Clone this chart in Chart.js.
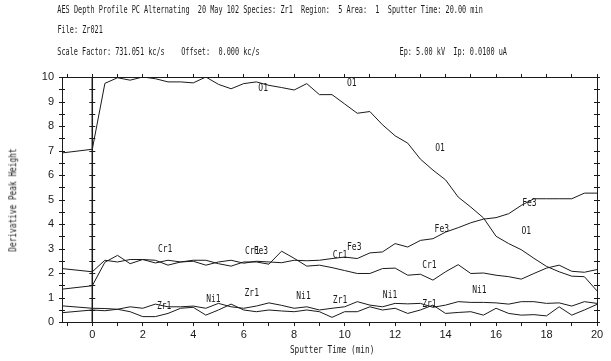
<!DOCTYPE html>
<html>
<head>
<meta charset="utf-8">
<script src="https://cdn.jsdelivr.net/npm/chart.js@4.4.0/dist/chart.umd.min.js"></script>
<style>
  html, body { margin: 0; padding: 0; background: #fff; }
  #wrap { position: relative; width: 611px; height: 361px; overflow: hidden; }
  canvas { position: absolute; left: 0; top: 0; }
  .txt { position: absolute; left: 0; top: 0; font-family: "DejaVu Sans Mono", monospace; font-size: 10px; line-height: 12px; white-space: pre; color: #1a1a1a; transform-origin: 50% 50%; }
</style>
</head>
<body>
<div id="wrap">
  <canvas id="chart" width="611" height="361"></canvas>
  <div class="txt" id="head1">AES Depth Profile PC Alternating  20 May 102 Species: Zr1  Region:  5 Area:  1  Sputter Time: 20.00 min</div>
  <div class="txt" id="head2">File: Zr021</div>
  <div class="txt" id="head3">Scale Factor: 731.051 kc/s    Offset:  0.000 kc/s</div>
  <div class="txt" id="head4">Ep: 5.00 kV  Ip: 0.0100 uA</div>
  <div class="txt" id="xTitle">Sputter Time (min)</div>
  <div class="txt" id="yTitle">Derivative Peak Height</div>
</div>
<script>
// sputter time (min) of each sample; the first one is the pre-sputter reading
const times = [-1.2, 0, 0.5, 1, 1.5, 2, 2.5, 3, 3.5, 4, 4.5, 5, 5.5, 6, 6.5, 7, 7.5, 8, 8.5, 9, 9.5,
               10, 10.5, 11, 11.5, 12, 12.5, 13, 13.5, 14, 14.5, 15, 15.5, 16, 16.5, 17, 17.5, 18, 18.5, 19, 19.5, 20];

const o1  = [6.9, 7.05, 9.74, 9.97, 9.87, 10.0, 9.93, 9.8, 9.8, 9.76, 10.0, 9.7, 9.52, 9.73, 9.8, 9.66, 9.57, 9.47, 9.73, 9.28, 9.28,
             8.9, 8.52, 8.59, 8.05, 7.6, 7.3, 6.65, 6.2, 5.8, 5.1, 4.69, 4.25, 3.5, 3.2, 2.95, 2.6, 2.27, 2.05, 1.87, 1.85, 1.27];
const fe3 = [1.34, 1.48, 2.44, 2.72, 2.38, 2.55, 2.41, 2.52, 2.45, 2.48, 2.32, 2.45, 2.52, 2.4, 2.48, 2.45, 2.42, 2.52, 2.5, 2.52, 2.59,
             2.65, 2.59, 2.82, 2.86, 3.2, 3.06, 3.33, 3.4, 3.67, 3.85, 4.05, 4.2, 4.26, 4.42, 4.76, 5.03, 5.03, 5.03, 5.03, 5.26, 5.26];
const cr1 = [2.18, 2.05, 2.52, 2.45, 2.55, 2.55, 2.52, 2.32, 2.45, 2.52, 2.52, 2.38, 2.28, 2.45, 2.45, 2.36, 2.89, 2.6, 2.28, 2.32, 2.22,
             2.1, 1.98, 1.98, 2.18, 2.2, 1.91, 1.95, 1.71, 2.05, 2.34, 1.98, 2.0, 1.91, 1.85, 1.75, 1.98, 2.2, 2.32, 2.07, 2.03, 2.14];
const ni1 = [0.66, 0.56, 0.55, 0.52, 0.62, 0.56, 0.73, 0.62, 0.62, 0.65, 0.56, 0.76, 0.62, 0.56, 0.65, 0.78, 0.68, 0.56, 0.62, 0.49, 0.56,
             0.62, 0.83, 0.69, 0.62, 0.76, 0.74, 0.76, 0.6, 0.69, 0.83, 0.8, 0.8, 0.78, 0.73, 0.83, 0.83, 0.76, 0.78, 0.65, 0.83, 0.76];
const zr1 = [0.38, 0.49, 0.46, 0.52, 0.42, 0.22, 0.22, 0.35, 0.56, 0.6, 0.28, 0.49, 0.73, 0.49, 0.42, 0.49, 0.45, 0.42, 0.49, 0.42, 0.19,
             0.42, 0.42, 0.62, 0.49, 0.56, 0.35, 0.49, 0.69, 0.35, 0.39, 0.42, 0.28, 0.56, 0.35, 0.28, 0.3, 0.25, 0.62, 0.28, 0.49, 0.72];

const seriesNames = ["O1", "Fe3", "Cr1", "Ni1", "Zr1"];
const seriesValues = [o1, fe3, cr1, ni1, zr1];

// curve labels written on the plot (text, time, height)
const tagText = ["O1", "O1", "O1", "O1", "Fe3", "Fe3", "Cr1", "Ni1", "Zr1", "Cr1", "Zr1", "Ni1",
                 "Cr1", "Fe3", "Fe3", "Cr1", "Zr1", "Ni1", "Zr1", "Ni1"];
const tagTime = [6.77, 10.28, 13.78, 17.2, 17.32, 13.85, 13.36, 15.34, 13.36, 2.89, 2.85, 4.8,
                 6.34, 6.68, 10.38, 9.82, 6.32, 8.37, 9.82, 11.8];
const tagHeight = [9.55, 9.74, 7.09, 3.69, 4.84, 3.76, 2.33, 1.28, 0.73, 2.97, 0.62, 0.94,
                   2.9, 2.9, 3.03, 2.73, 1.17, 1.03, 0.9, 1.1];

const ink = "#1a1a1a";

// place a header / axis title: anchor point, horizontal squeeze, rotation
function placeText(id, x, y, anchor, sx, rot) {
    const el = document.getElementById(id);
    const w = el.offsetWidth, h = el.offsetHeight;
    let cx = x;
    if (anchor === "left") cx = x + w * sx / 2;
    if (anchor === "right") cx = x - w * sx / 2;
    el.style.left = (cx - w / 2) + "px";
    el.style.top = (y - h / 2) + "px";
    el.style.transform = `rotate(${rot || 0}deg) scaleX(${sx})`;
}
placeText("head1", 57, 10, "left", 0.686);
placeText("head2", 57, 30, "left", 0.686);
placeText("head3", 57, 52, "left", 0.686);
placeText("head4", 400, 52, "left", 0.686);
placeText("xTitle", 332, 350, "center", 0.78);
placeText("yTitle", 13, 200, "center", 0.78, -90);

// tick marks crossing the left axis, the zero-time line and the right axis
const axisMarks = {
    id: "axisMarks",
    afterDraw(chart) {
        const { ctx, chartArea, scales } = chart;
        const x0 = scales.x.getPixelForValue(0);
        ctx.save();
        ctx.strokeStyle = ink;
        ctx.lineWidth = 1.5;
        ctx.beginPath();
        ctx.moveTo(x0, chartArea.top);
        ctx.lineTo(x0, chartArea.bottom);
        ctx.stroke();
        ctx.lineWidth = 1;
        ctx.beginPath();
        scales.y.ticks.forEach(t => {
            const py = Math.round(scales.y.getPixelForValue(t.value)) + 0.5;
            [chartArea.left, x0, chartArea.right].forEach(px => {
                ctx.moveTo(px - 3, py);
                ctx.lineTo(px + 3, py);
            });
        });
        ctx.stroke();
        ctx.restore();
    }
};

// species names written next to the curves
const curveTags = {
    id: "curveTags",
    afterDatasetsDraw(chart) {
        const { ctx, scales } = chart;
        ctx.save();
        ctx.fillStyle = ink;
        ctx.font = "10px 'DejaVu Sans Mono'";
        ctx.textAlign = "center";
        ctx.textBaseline = "middle";
        tagText.forEach((txt, i) => {
            const px = scales.x.getPixelForValue(tagTime[i]);
            const py = scales.y.getPixelForValue(tagHeight[i]);
            ctx.save();
            ctx.translate(px, py);
            ctx.scale(0.8, 1);
            ctx.fillText(txt, 0, 0);
            ctx.restore();
        });
        ctx.restore();
    }
};

const tickFont = { family: "'Liberation Sans', Arial, sans-serif", size: 11 };

new Chart(document.getElementById("chart"), {
    type: "line",
    data: {
        datasets: seriesNames.map((name, k) => ({
            label: name,
            data: times.map((t, i) => ({ x: t, y: seriesValues[k][i] })),
            borderColor: ink,
            borderWidth: 1,
            pointRadius: 0,
            tension: 0,
            fill: false
        }))
    },
    options: {
        responsive: false,
        animation: false,
        layout: { padding: 0 },
        plugins: { legend: { display: false }, tooltip: { enabled: false } },
        scales: {
            x: {
                type: "linear", position: "bottom", min: -1.2, max: 20,
                afterFit: s => { s.height = 39; },
                border: { color: ink, width: 1 },
                grid: { drawOnChartArea: false, tickLength: 4, color: ink },
                ticks: {
                    stepSize: 1, includeBounds: false, autoSkip: false, maxRotation: 0, padding: 2,
                    color: ink, font: tickFont,
                    callback: v => (v % 2 === 0 ? String(v) : "")
                }
            },
            xTop: {
                type: "linear", position: "top", min: -1.2, max: 20,
                afterFit: s => { s.height = 77; },
                border: { color: ink, width: 1 },
                grid: { drawOnChartArea: false, tickLength: 3, color: ink },
                ticks: { stepSize: 1, includeBounds: false, autoSkip: false, maxRotation: 0, callback: () => "" }
            },
            y: {
                min: 0, max: 10, position: "left",
                afterFit: s => { s.width = 62; },
                border: { color: ink, width: 1 },
                grid: { drawOnChartArea: false, drawTicks: false },
                ticks: {
                    stepSize: 0.5, autoSkip: false, padding: 8, color: ink, font: tickFont,
                    callback: v => (Number.isInteger(v) ? String(v) : "")
                }
            },
            yRight: {
                min: 0, max: 10, position: "right",
                afterFit: s => { s.width = 14; },
                border: { color: ink, width: 1 },
                grid: { drawOnChartArea: false, drawTicks: false },
                ticks: { display: false }
            }
        }
    },
    plugins: [axisMarks, curveTags]
});
</script>
</body>
</html>
